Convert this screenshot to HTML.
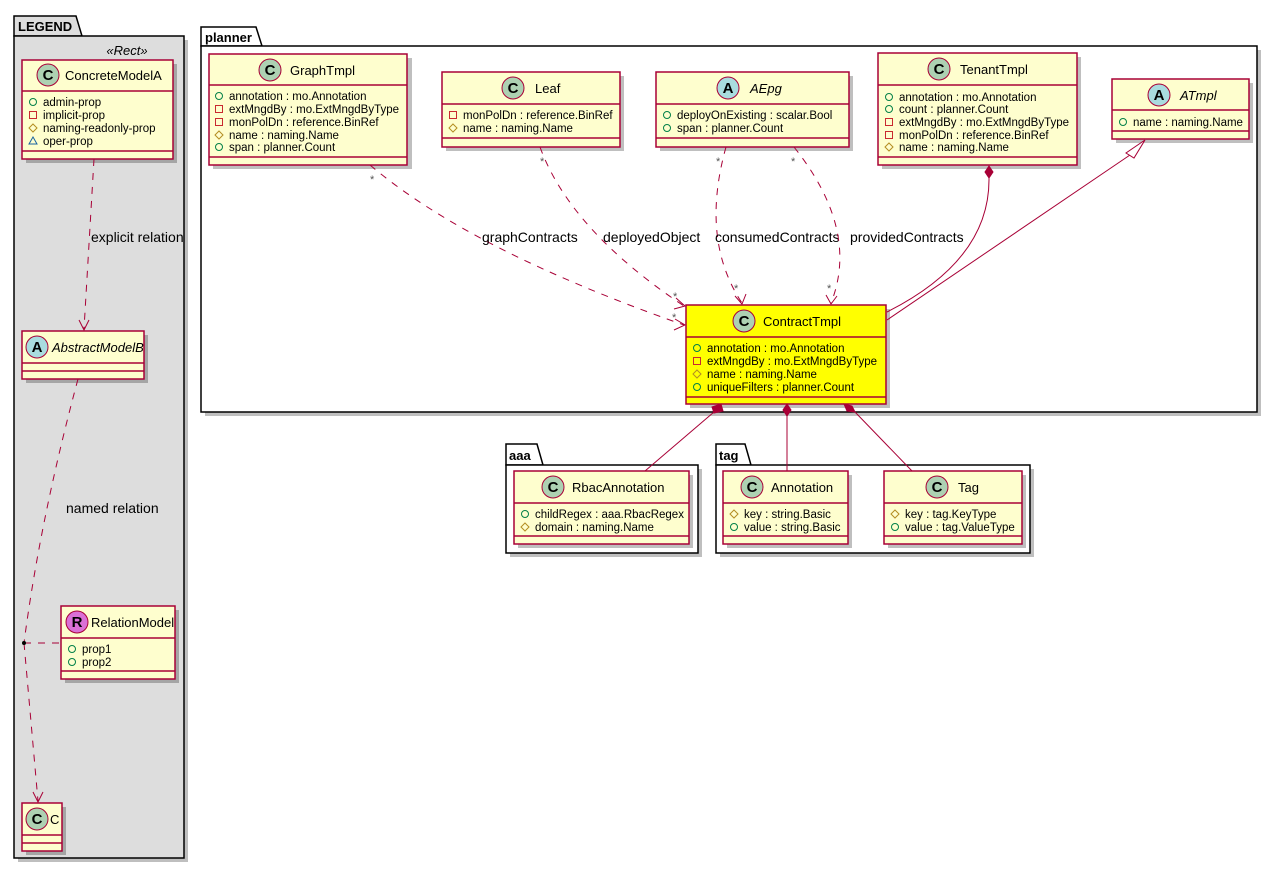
<!DOCTYPE html>
<html><head><meta charset="utf-8">
<style>
html,body{margin:0;padding:0;background:#fff;}
svg{display:block;font-family:"Liberation Sans","DejaVu Sans",sans-serif;}
.cls{fill:#FEFECE;stroke:#A80036;stroke-width:1.5;}
.yel{fill:#FFFF00;stroke:#A80036;stroke-width:1.5;}
.sh{fill:#000;opacity:0.25;}
.dv{stroke:#A80036;stroke-width:1.5;}
.nm{font-size:13px;fill:#000;}
.at{font-size:11.5px;fill:#000;}
.ln{fill:none;stroke:#A80036;stroke-width:1;}
.dl{fill:none;stroke:#A80036;stroke-width:1;stroke-dasharray:7,7;}
.lab{font-size:14px;fill:#000;}
.st{font-size:11px;fill:#555;}
.pk{fill:#fff;stroke:#000;stroke-width:1.5;}
.pt{font-size:13px;font-weight:bold;fill:#000;}
.pub{fill:none;stroke:#038048;stroke-width:1;}
.pri{fill:none;stroke:#C82930;stroke-width:1;}
.pro{fill:none;stroke:#B38D22;stroke-width:1;}
.pkg{fill:none;stroke:#1963A0;stroke-width:1;}
</style></head><body>
<svg width="1279" height="870" viewBox="0 0 1279 870" xmlns="http://www.w3.org/2000/svg">
<defs>
<g id="C"><circle r="11" fill="#ADD1B2" stroke="#A80036" stroke-width="1"/><text x="0" y="5" text-anchor="middle" font-size="15" font-weight="bold">C</text></g>
<g id="A"><circle r="11" fill="#A9DCDF" stroke="#A80036" stroke-width="1"/><text x="0" y="5" text-anchor="middle" font-size="15" font-weight="bold">A</text></g>
<g id="R"><circle r="11" fill="#DA70D6" stroke="#A80036" stroke-width="1"/><text x="0" y="5" text-anchor="middle" font-size="15" font-weight="bold">R</text></g>
<circle id="pu" r="3.5" class="pub"/>
<rect id="pr" x="-3.5" y="-3.5" width="7" height="7" class="pri"/>
<polygon id="po" points="0,-4 4,0 0,4 -4,0" class="pro"/>
<polygon id="pa" points="0,-4 4,3 -4,3" class="pkg"/>
</defs>

<!-- LEGEND package -->
<rect x="18" y="40" width="170" height="822" class="sh"/>
<polygon points="14,16 76,16 82,36 14,36" fill="#DDDDDD" stroke="#000" stroke-width="1.5"/>
<rect x="14" y="36" width="170" height="822" fill="#DDDDDD" stroke="#000" stroke-width="1.5"/>
<text x="18" y="31" class="pt">LEGEND</text>
<text x="127" y="55" text-anchor="middle" font-size="13" font-style="italic">«Rect»</text>

<!-- ConcreteModelA -->
<rect x="26" y="64" width="151" height="99" class="sh"/>
<rect x="22" y="60" width="151" height="99" class="cls"/>
<line x1="22" y1="91" x2="173" y2="91" class="dv"/><line x1="22" y1="151" x2="173" y2="151" class="dv"/>
<use href="#C" x="48" y="75"/><text x="65" y="80" class="nm">ConcreteModelA</text>
<use href="#pu" x="33" y="102"/><text x="43" y="106" class="at">admin-prop</text>
<use href="#pr" x="33" y="115"/><text x="43" y="119" class="at">implicit-prop</text>
<use href="#po" x="33" y="128"/><text x="43" y="132" class="at">naming-readonly-prop</text>
<use href="#pa" x="33" y="141"/><text x="43" y="145" class="at">oper-prop</text>

<!-- AbstractModelB -->
<rect x="26" y="335" width="122" height="48" class="sh"/>
<rect x="22" y="331" width="122" height="48" class="cls"/>
<line x1="22" y1="363" x2="144" y2="363" class="dv"/><line x1="22" y1="371" x2="144" y2="371" class="dv"/>
<use href="#A" x="37" y="347"/><text x="52" y="352" class="nm" font-style="italic">AbstractModelB</text>

<!-- RelationModel -->
<rect x="65" y="610" width="114" height="73" class="sh"/>
<rect x="61" y="606" width="114" height="73" class="cls"/>
<line x1="61" y1="638" x2="175" y2="638" class="dv"/><line x1="61" y1="671" x2="175" y2="671" class="dv"/>
<use href="#R" x="77" y="622"/><text x="91" y="627" class="nm">RelationModel</text>
<use href="#pu" x="72" y="649"/><text x="82" y="653" class="at">prop1</text>
<use href="#pu" x="72" y="662"/><text x="82" y="666" class="at">prop2</text>

<!-- C -->
<rect x="26" y="807" width="40" height="48" class="sh"/>
<rect x="22" y="803" width="40" height="48" class="cls"/>
<line x1="22" y1="835" x2="62" y2="835" class="dv"/><line x1="22" y1="843" x2="62" y2="843" class="dv"/>
<use href="#C" x="37" y="819"/><text x="50" y="824" class="nm">C</text>

<!-- legend connectors -->
<path d="M94,159 L84,329" class="dl"/>
<polyline points="79,320 84,330 89,320" class="ln" stroke-width="1.5"/>
<text x="91" y="242" class="lab">explicit relation</text>
<path d="M78,379 Q40,520 24,643" class="dl"/>
<text x="66" y="513" class="lab">named relation</text>
<path d="M24,643 L38,801" class="dl"/>
<polyline points="33,792 38,802 43,792" class="ln" stroke-width="1.5"/>
<path d="M24,643 L61,643" class="dl" stroke="#000" stroke-dasharray="5,5"/>
<circle cx="24" cy="643" r="2" fill="#000"/>

<!-- planner package -->
<rect x="205" y="50" width="1056" height="366" class="sh" opacity="0.15"/>
<polygon points="201,27 256,27 262,46 201,46" class="pk"/>
<rect x="201" y="46" width="1056" height="366" class="pk"/>
<text x="205" y="42" class="pt">planner</text>

<!-- GraphTmpl -->
<rect x="213" y="58" width="199" height="111" class="sh"/>
<rect x="209" y="54" width="198" height="111" class="cls"/>
<line x1="209" y1="85" x2="407" y2="85" class="dv"/><line x1="209" y1="157" x2="407" y2="157" class="dv"/>
<use href="#C" x="270" y="70"/><text x="290" y="75" class="nm">GraphTmpl</text>
<use href="#pu" x="219" y="96"/><text x="229" y="100" class="at">annotation : mo.Annotation</text>
<use href="#pr" x="219" y="109"/><text x="229" y="113" class="at">extMngdBy : mo.ExtMngdByType</text>
<use href="#pr" x="219" y="122"/><text x="229" y="126" class="at">monPolDn : reference.BinRef</text>
<use href="#po" x="219" y="135"/><text x="229" y="139" class="at">name : naming.Name</text>
<use href="#pu" x="219" y="147"/><text x="229" y="151" class="at">span : planner.Count</text>

<!-- Leaf -->
<rect x="446" y="76" width="178" height="75" class="sh"/>
<rect x="442" y="72" width="178" height="75" class="cls"/>
<line x1="442" y1="104" x2="620" y2="104" class="dv"/><line x1="442" y1="138" x2="620" y2="138" class="dv"/>
<use href="#C" x="513" y="88"/><text x="535" y="93" class="nm">Leaf</text>
<use href="#pr" x="453" y="115"/><text x="463" y="119" class="at">monPolDn : reference.BinRef</text>
<use href="#po" x="453" y="128"/><text x="463" y="132" class="at">name : naming.Name</text>

<!-- AEpg -->
<rect x="660" y="76" width="193" height="75" class="sh"/>
<rect x="656" y="72" width="193" height="75" class="cls"/>
<line x1="656" y1="104" x2="849" y2="104" class="dv"/><line x1="656" y1="138" x2="849" y2="138" class="dv"/>
<use href="#A" x="728" y="88"/><text x="750" y="93" class="nm" font-style="italic">AEpg</text>
<use href="#pu" x="667" y="115"/><text x="677" y="119" class="at">deployOnExisting : scalar.Bool</text>
<use href="#pu" x="667" y="128"/><text x="677" y="132" class="at">span : planner.Count</text>

<!-- TenantTmpl -->
<rect x="882" y="57" width="199" height="112" class="sh"/>
<rect x="878" y="53" width="199" height="112" class="cls"/>
<line x1="878" y1="85" x2="1077" y2="85" class="dv"/><line x1="878" y1="157" x2="1077" y2="157" class="dv"/>
<use href="#C" x="939" y="69"/><text x="960" y="74" class="nm">TenantTmpl</text>
<use href="#pu" x="889" y="97"/><text x="899" y="101" class="at">annotation : mo.Annotation</text>
<use href="#pu" x="889" y="109"/><text x="899" y="113" class="at">count : planner.Count</text>
<use href="#pr" x="889" y="122"/><text x="899" y="126" class="at">extMngdBy : mo.ExtMngdByType</text>
<use href="#pr" x="889" y="135"/><text x="899" y="139" class="at">monPolDn : reference.BinRef</text>
<use href="#po" x="889" y="147"/><text x="899" y="151" class="at">name : naming.Name</text>

<!-- ATmpl -->
<rect x="1116" y="83" width="137" height="60" class="sh"/>
<rect x="1112" y="79" width="137" height="60" class="cls"/>
<line x1="1112" y1="110" x2="1249" y2="110" class="dv"/><line x1="1112" y1="131" x2="1249" y2="131" class="dv"/>
<use href="#A" x="1159" y="95"/><text x="1180" y="100" class="nm" font-style="italic">ATmpl</text>
<use href="#pu" x="1123" y="122"/><text x="1133" y="126" class="at">name : naming.Name</text>

<!-- ContractTmpl -->
<rect x="690" y="309" width="200" height="99" class="sh"/>
<rect x="686" y="305" width="200" height="99" class="yel"/>
<line x1="686" y1="337" x2="886" y2="337" class="dv"/><line x1="686" y1="397" x2="886" y2="397" class="dv"/>
<use href="#C" x="744" y="321"/><text x="763" y="326" class="nm">ContractTmpl</text>
<use href="#pu" x="697" y="348"/><text x="707" y="352" class="at">annotation : mo.Annotation</text>
<use href="#pr" x="697" y="361"/><text x="707" y="365" class="at">extMngdBy : mo.ExtMngdByType</text>
<use href="#po" x="697" y="374"/><text x="707" y="378" class="at">name : naming.Name</text>
<use href="#pu" x="697" y="387"/><text x="707" y="391" class="at">uniqueFilters : planner.Count</text>

<!-- planner connectors -->
<path d="M370,165 Q470,250 684,325" class="dl"/>
<polyline points="675,319 685,325 674,330" class="ln" stroke-width="1.5"/>
<text x="370" y="183" class="st">*</text><text x="672" y="321" class="st">*</text>
<text x="482" y="242" class="lab">graphContracts</text>

<path d="M540,147 Q570,230 684,306" class="dl"/>
<polyline points="676,298 685,306 674,309" class="ln" stroke-width="1.5"/>
<text x="540" y="165" class="st">*</text><text x="673" y="300" class="st">*</text>
<text x="603" y="242" class="lab">deployedObject</text>

<path d="M726,147 Q700,240 742,303" class="dl"/>
<polyline points="735,296 742,304 746,294" class="ln" stroke-width="1.5"/>
<text x="716" y="165" class="st">*</text><text x="734" y="292" class="st">*</text>
<text x="715" y="242" class="lab">consumedContracts</text>

<path d="M794,147 Q860,230 831,303" class="dl"/>
<polyline points="826,295 831,304 837,296" class="ln" stroke-width="1.5"/>
<text x="791" y="165" class="st">*</text><text x="827" y="292" class="st">*</text>
<text x="850" y="242" class="lab">providedContracts</text>

<path d="M989,178 Q990,260 887,312" class="ln"/>
<polygon points="989,166 993,172 989,178 985,172" fill="#A80036" stroke="#A80036"/>
<path d="M1130,155 L887,320" class="ln"/>
<polygon points="1145,140 1126,153 1134,158" fill="#fff" stroke="#A80036" stroke-width="1"/>

<!-- aaa package -->
<polygon points="506,444 537,444 543,465 506,465" class="pk"/>
<rect x="510" y="469" width="192" height="88" class="sh"/>
<rect x="506" y="465" width="192" height="88" class="pk"/>
<text x="509" y="460" class="pt">aaa</text>
<rect x="518" y="475" width="175" height="73" class="sh"/>
<rect x="514" y="471" width="175" height="73" class="cls"/>
<line x1="514" y1="503" x2="689" y2="503" class="dv"/><line x1="514" y1="536" x2="689" y2="536" class="dv"/>
<use href="#C" x="553" y="487"/><text x="572" y="492" class="nm">RbacAnnotation</text>
<use href="#pu" x="525" y="514"/><text x="535" y="518" class="at">childRegex : aaa.RbacRegex</text>
<use href="#po" x="525" y="527"/><text x="535" y="531" class="at">domain : naming.Name</text>

<!-- tag package -->
<polygon points="716,444 745,444 751,465 716,465" class="pk"/>
<rect x="720" y="469" width="314" height="88" class="sh"/>
<rect x="716" y="465" width="314" height="88" class="pk"/>
<text x="719" y="460" class="pt">tag</text>
<rect x="727" y="475" width="125" height="73" class="sh"/>
<rect x="723" y="471" width="125" height="73" class="cls"/>
<line x1="723" y1="503" x2="848" y2="503" class="dv"/><line x1="723" y1="536" x2="848" y2="536" class="dv"/>
<use href="#C" x="752" y="487"/><text x="771" y="492" class="nm">Annotation</text>
<use href="#po" x="734" y="514"/><text x="744" y="518" class="at">key : string.Basic</text>
<use href="#pu" x="734" y="527"/><text x="744" y="531" class="at">value : string.Basic</text>
<rect x="888" y="475" width="138" height="73" class="sh"/>
<rect x="884" y="471" width="138" height="73" class="cls"/>
<line x1="884" y1="503" x2="1022" y2="503" class="dv"/><line x1="884" y1="536" x2="1022" y2="536" class="dv"/>
<use href="#C" x="937" y="487"/><text x="958" y="492" class="nm">Tag</text>
<use href="#po" x="895" y="514"/><text x="905" y="518" class="at">key : tag.KeyType</text>
<use href="#pu" x="895" y="527"/><text x="905" y="531" class="at">value : tag.ValueType</text>

<!-- compositions from ContractTmpl -->
<path d="M714,412 L645,471" class="ln"/>
<polygon points="721,404 723,411 714,413 712,407" fill="#A80036" stroke="#A80036"/>
<path d="M787,416 L787,471" class="ln"/>
<polygon points="787,404 791,410 787,416 783,410" fill="#A80036" stroke="#A80036"/>
<path d="M855,412 L912,471" class="ln"/>
<polygon points="844,404 852,406 855,412 847,411" fill="#A80036" stroke="#A80036"/>
</svg>
</body></html>
